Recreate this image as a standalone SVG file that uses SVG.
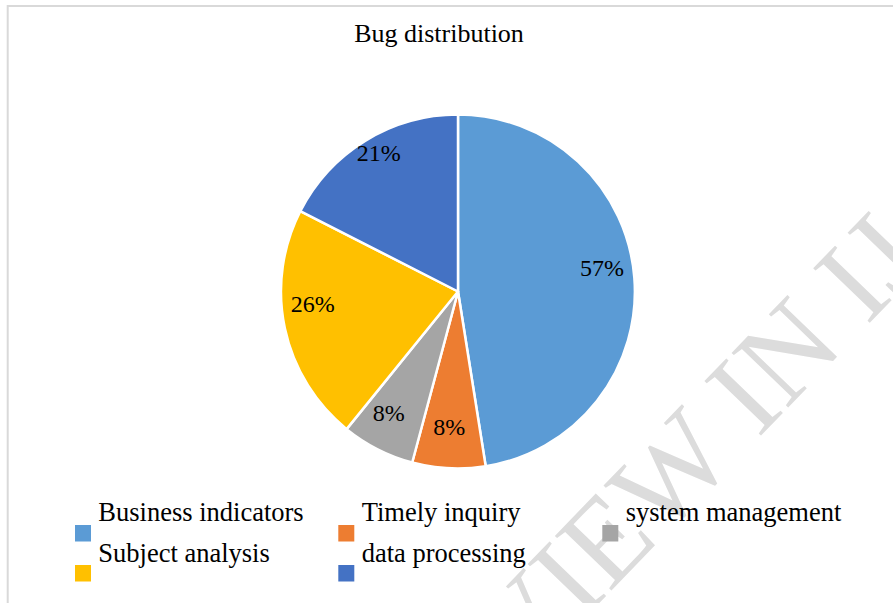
<svg xmlns="http://www.w3.org/2000/svg" width="893" height="603" viewBox="0 0 893 603">
<style>
.t{font-family:"Liberation Serif","Times New Roman",serif;fill:#000}
.title{font-size:26px}
.lbl{font-size:24px}
.leg{font-size:26.5px}
.wm{font-family:"Liberation Serif","Times New Roman",serif;font-size:120px;fill:#dcdcdc}
.sl{stroke:#fff;stroke-width:2.5;stroke-linejoin:round}
</style>
<rect x="0" y="0" width="893" height="603" fill="#fff"/>
<path d="M7.7,603 V6 H893" fill="none" stroke="#d9d9d9" stroke-width="2"/>
<g id="watermark">
<text class="wm" transform="translate(521,684) rotate(-46)">VIEW IN IJ</text>
</g>
<text id="title" class="t title" x="439" y="41.5" text-anchor="middle">Bug distribution</text>
<g id="pie">
<g id="slice-business"><path class="sl" fill="#5B9BD5" d="M458,291.5 L458,114.5 A177,177 0 0,1 485.7,466.3 Z"/></g>
<g id="slice-timely"><path class="sl" fill="#ED7D31" d="M458,291.5 L485.7,466.3 A177,177 0 0,1 412.2,462.5 Z"/></g>
<g id="slice-system"><path class="sl" fill="#A5A5A5" d="M458,291.5 L412.2,462.5 A177,177 0 0,1 346.6,429.1 Z"/></g>
<g id="slice-subject"><path class="sl" fill="#FFC000" d="M458,291.5 L346.6,429.1 A177,177 0 0,1 300.3,211.1 Z"/></g>
<g id="slice-data"><path class="sl" fill="#4472C4" d="M458,291.5 L300.3,211.1 A177,177 0 0,1 458,114.5 Z"/></g>
</g>
<g id="labels">
<text class="t lbl" x="580" y="276">57%</text>
<text class="t lbl" x="356.7" y="161">21%</text>
<text class="t lbl" x="290.7" y="311.7">26%</text>
<text class="t lbl" x="372.7" y="421">8%</text>
<text class="t lbl" x="433.3" y="435">8%</text>
</g>
<g id="legend">
<g id="leg-business"><rect x="75" y="525" width="16" height="16.5" fill="#5B9BD5"/><text class="t leg" x="98.3" y="520.7">Business indicators</text></g>
<g id="leg-timely"><rect x="338.3" y="525" width="16" height="16.5" fill="#ED7D31"/><text class="t leg" x="361.7" y="520.7">Timely inquiry</text></g>
<g id="leg-system"><rect x="602.3" y="525" width="16" height="16.5" fill="#A5A5A5"/><text class="t leg" x="625.7" y="520.7">system management</text></g>
<g id="leg-subject"><rect x="75" y="565" width="16" height="16.5" fill="#FFC000"/><text class="t leg" x="98.3" y="561.7">Subject analysis</text></g>
<g id="leg-data"><rect x="338.3" y="565" width="16" height="16.5" fill="#4472C4"/><text class="t leg" x="361.7" y="561.7">data processing</text></g>
</g>
</svg>
